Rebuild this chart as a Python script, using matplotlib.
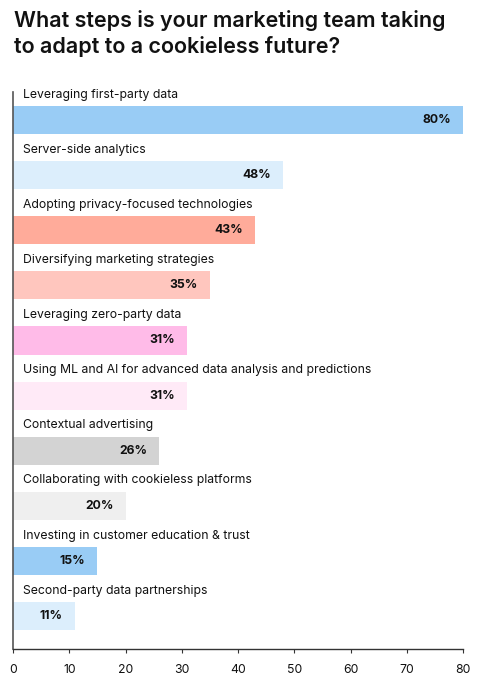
import matplotlib
matplotlib.use("Agg")
import matplotlib.pyplot as plt
from matplotlib.transforms import offset_copy

categories = [
    "Leveraging first-party data",
    "Server-side analytics",
    "Adopting privacy-focused technologies",
    "Diversifying marketing strategies",
    "Leveraging zero-party data",
    "Using ML and AI for advanced data analysis and predictions",
    "Contextual advertising",
    "Collaborating with cookieless platforms",
    "Investing in customer education & trust",
    "Second-party data partnerships",
]
values = [80, 48, 43, 35, 31, 31, 26, 20, 15, 11]
colors = ["#99CCF5", "#DCEEFC", "#FFAB9A", "#FFC6BE", "#FFBBE8",
          "#FFEAF7", "#D3D3D3", "#EFEFEF", "#99CCF5", "#DCEEFC"]
xticks = [0, 10, 20, 30, 40, 50, 60, 70, 80]
title = "What steps is your marketing team taking\nto adapt to a cookieless future?"

plt.rcParams['font.family'] = ['Inter', 'DejaVu Sans']

fig = plt.figure(figsize=(4.85, 6.82), dpi=100)
ax = fig.add_axes([13/485, 1-649/682, 450/485, (649-92)/682])

ypos = list(range(len(categories)))
ax.barh(ypos, values, height=0.51, color=colors, zorder=2)

for y, v, c in zip(ypos, values, categories):
    tr = offset_copy(ax.transData, fig=fig, x=-12, y=0, units='dots')
    ax.text(v, y, f"{v}%", transform=tr, ha='right', va='center',
            fontsize=8.8, fontweight='bold', color='#111111')
    tr2 = offset_copy(ax.transData, fig=fig, x=10, y=0, units='dots')
    ax.text(0, y - 0.46, c, transform=tr2, ha='left', va='center',
            fontsize=8.8, color='#111111')

ax.set_xlim(0, 80)
ax.set_ylim(9.6, -0.51)
ax.set_xticks(xticks)
ax.set_xticklabels([str(t) for t in xticks], fontsize=8.8, color='#111111')
ax.set_yticks([])
for s in ['top', 'right']:
    ax.spines[s].set_visible(False)
ax.spines['left'].set_color('#555555')
ax.spines['bottom'].set_color('#333333')
ax.spines['left'].set_linewidth(1.2)
ax.spines['bottom'].set_linewidth(1.0)
ax.tick_params(axis='x', length=3, width=0.8, color='#333333', pad=8)

fig.text(14/485, 1-10/682, title, ha='left', va='top', fontsize=15.5,
         fontweight='semibold', color='#111111', linespacing=1.3)

fig.savefig("out.png", dpi=100)
